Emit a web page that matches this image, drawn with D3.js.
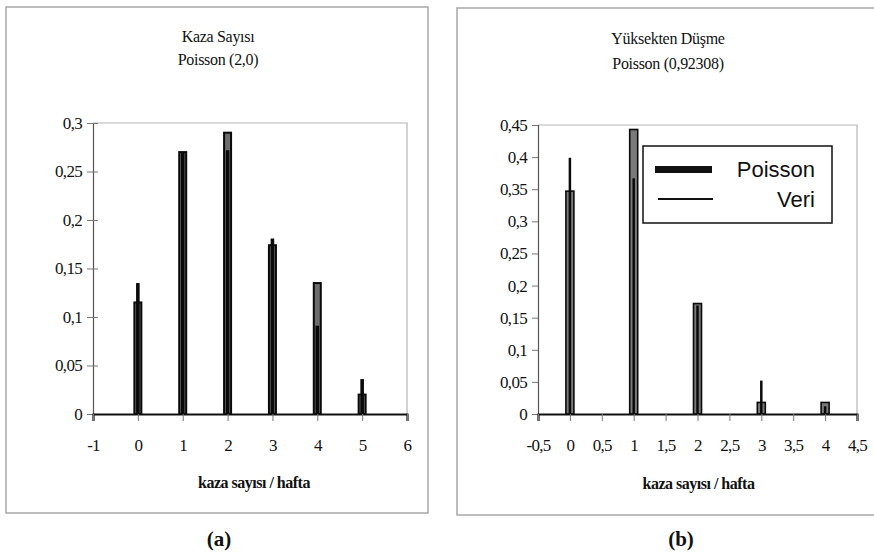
<!DOCTYPE html>
<html>
<head>
<meta charset="utf-8">
<script src="https://cdn.jsdelivr.net/npm/d3@7"></script>
<style>
  body { margin: 0; background: #fff; }
  svg { display: block; }
  text { font-family: "Liberation Serif", "DejaVu Serif", serif; fill: #111; }
</style>
</head>
<body>
<div id="chart"></div>
<script>
// (a) Kaza Sayısı
const catsA = [0, 1, 2, 3, 4, 5];
const barsA = [0.115, 0.27, 0.29, 0.174, 0.135, 0.02];
const lineA = [0.135, 0.27, 0.272, 0.181, 0.091, 0.036];
const yTicksA = [0, 0.05, 0.1, 0.15, 0.2, 0.25, 0.3];
const xTicksA = [-1, 0, 1, 2, 3, 4, 5, 6];

// (b) Yüksekten Düşme
const catsB = [0, 1, 2, 3, 4];
const barsB = [0.347, 0.443, 0.172, 0.018, 0.018];
const lineB = [0.399, 0.367, 0.169, 0.052, 0.012];
const yTicksB = [0, 0.05, 0.1, 0.15, 0.2, 0.25, 0.3, 0.35, 0.4, 0.45];
const xTicksB = [-0.5, 0, 0.5, 1, 1.5, 2, 2.5, 3, 3.5, 4, 4.5];

const legendLabels = ["Poisson", "Veri"];

const loc = d3.formatLocale({decimal: ",", thousands: ".", grouping: [3], currency: ["", ""], minus: "-"});
const fmt = loc.format("~g");

const svg = d3.select("#chart").append("svg")
  .attr("width", 874)
  .attr("height", 554);

function drawPanel(cfg) {
  const g = svg.append("g");

  // panel frame
  g.append("rect")
    .attr("x", cfg.frame[0]).attr("y", cfg.frame[1])
    .attr("width", cfg.frame[2]).attr("height", cfg.frame[3])
    .attr("fill", "none").attr("stroke", "#a8a8a8").attr("stroke-width", 1.5);

  const x = d3.scaleLinear().domain(cfg.xDomain).range([cfg.left, cfg.right]);
  const y = d3.scaleLinear().domain(cfg.yDomain).range([cfg.bottom, cfg.top]);

  // plot area top / right border
  g.append("path")
    .attr("d", `M${cfg.left},${cfg.top}H${cfg.right}V${cfg.bottom}`)
    .attr("fill", "none").attr("stroke", "#b5b5b5").attr("stroke-width", 1.2);

  // titles
  cfg.titles.forEach((t, i) => {
    g.append("text")
      .attr("x", cfg.titleX).attr("y", cfg.titleY[i])
      .attr("text-anchor", "middle")
      .attr("font-size", "16px")
      .attr("letter-spacing", "-0.3px")
      .text(t);
  });

  // bars (gray fill, black outline)
  g.selectAll("rect.bar")
    .data(cfg.cats)
    .join("rect")
    .attr("class", "bar")
    .attr("x", d => x(d) - cfg.barW / 2)
    .attr("width", cfg.barW)
    .attr("y", (d, i) => y(cfg.bars[i]))
    .attr("height", (d, i) => y(0) - y(cfg.bars[i]))
    .attr("fill", cfg.barFill)
    .attr("stroke", "#0a0a0a")
    .attr("stroke-width", cfg.barStroke);

  // thin vertical lines
  g.selectAll("line.val")
    .data(cfg.cats)
    .join("line")
    .attr("class", "val")
    .attr("x1", d => x(d)).attr("x2", d => x(d))
    .attr("y1", y(0))
    .attr("y2", (d, i) => y(cfg.line[i]))
    .attr("stroke", "#0a0a0a")
    .attr("stroke-width", cfg.lineW);

  // y axis
  const ya = g.append("g")
    .attr("transform", `translate(${cfg.left},0)`)
    .call(d3.axisLeft(y).tickValues(cfg.yTicks).tickFormat(fmt).tickSizeOuter(0).tickSize(6).tickPadding(cfg.yPad));
  ya.select(".domain").attr("stroke", "#555").attr("stroke-width", 1.2);
  ya.selectAll(".tick line").attr("stroke", "#777").attr("x1", cfg.yCross);
  ya.selectAll(".tick text")
    .attr("font-size", "17px")
    .attr("letter-spacing", "-0.7px");

  // x axis
  const xa = g.append("g")
    .attr("transform", `translate(0,${cfg.bottom})`)
    .call(d3.axisBottom(x).tickValues(cfg.xTicks).tickFormat(fmt).tickSizeOuter(0).tickSize(7).tickPadding(18));
  xa.select(".domain").attr("stroke", "#111").attr("stroke-width", 2.2);
  xa.selectAll(".tick line").attr("stroke", "#777");
  xa.selectAll(".tick text")
    .attr("font-size", "17px")
    .attr("letter-spacing", "-0.7px");

  // x axis title
  g.append("text")
    .attr("x", (cfg.left + cfg.right) / 2 + cfg.xTitleShift)
    .attr("y", cfg.xTitleY)
    .attr("text-anchor", "middle")
    .attr("font-size", "16px")
    .attr("font-weight", "bold")
    .attr("letter-spacing", "-0.5px")
    .text("kaza sayısı / hafta");

  // caption
  g.append("text")
    .attr("x", cfg.capX).attr("y", 546)
    .attr("text-anchor", "middle")
    .attr("font-size", "21px")
    .attr("font-weight", "bold")
    .text(cfg.caption);

  return {x, y, g};
}

drawPanel({
  frame: [6, 7, 422, 506],
  left: 93, right: 407, top: 123, bottom: 414,
  xDomain: [-1, 6], yDomain: [0, 0.3],
  cats: catsA, bars: barsA, line: lineA,
  xTicks: xTicksA, yTicks: yTicksA,
  barW: 7, barStroke: 2, barFill: "#6e6e6e", lineW: 3.6, yPad: 5, yCross: 5,
  titles: ["Kaza Sayısı", "Poisson (2,0)"], titleX: 218, titleY: [42, 65],
  xTitleY: 488, xTitleShift: 4,
  caption: "(a)", capX: 219
});

const pb = drawPanel({
  frame: [457, 8, 430, 507],
  left: 538, right: 857, top: 125, bottom: 414,
  xDomain: [-0.5, 4.5], yDomain: [0, 0.45],
  cats: catsB, bars: barsB, line: lineB,
  xTicks: xTicksB, yTicks: yTicksB,
  barW: 8, barStroke: 1.6, barFill: "#7a7a7a", lineW: 2.5, yPad: 5, yCross: 0,
  titles: ["Yüksekten Düşme", "Poisson (0,92308)"], titleX: 668, titleY: [44, 69],
  xTitleY: 489, xTitleShift: 1,
  caption: "(b)", capX: 681
});

// legend (b)
const lg = pb.g.append("g").attr("transform", "translate(643,146)");
lg.append("rect")
  .attr("width", 189).attr("height", 77)
  .attr("fill", "#fff").attr("stroke", "#111").attr("stroke-width", 1.5);
lg.append("rect")
  .attr("x", 12).attr("y", 20).attr("width", 57).attr("height", 7)
  .attr("fill", "#111");
lg.append("line")
  .attr("x1", 15).attr("x2", 70).attr("y1", 53).attr("y2", 53)
  .attr("stroke", "#111").attr("stroke-width", 2.2);
lg.selectAll("text.lab")
  .data(legendLabels)
  .join("text")
  .attr("class", "lab")
  .attr("x", 172)
  .attr("y", (d, i) => 31 + i * 30)
  .attr("text-anchor", "end")
  .style("font-family", "'Liberation Sans', Arial, sans-serif")
  .style("font-size", "22px")
  .text(d => d);
</script>
</body>
</html>
